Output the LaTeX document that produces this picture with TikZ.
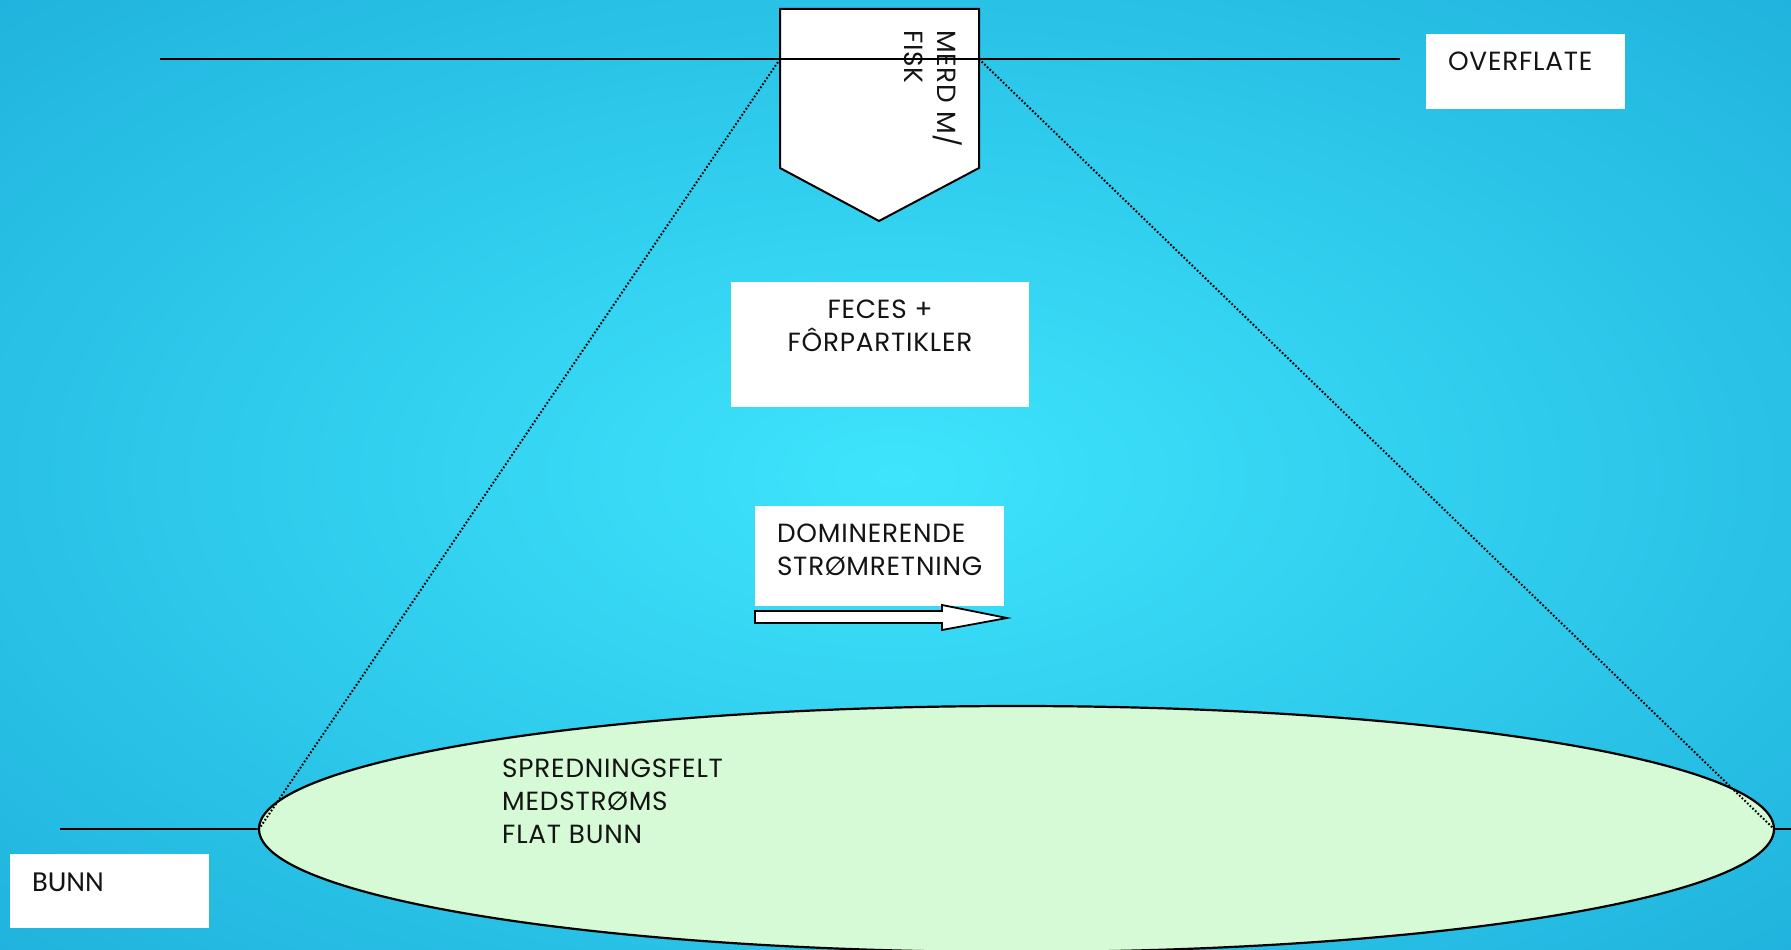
\documentclass[tikz,border=0pt]{standalone}
\usepackage{fontspec}
\newfontfamily\popf[LetterSpace=3]{Poppins}
\newfontfamily\carf{Carlito}
\usetikzlibrary{shapes.geometric}
\definecolor{bgin}{RGB}{62,228,252}
\definecolor{bgout}{RGB}{16,152,204}
\definecolor{fieldgreen}{RGB}{213,250,213}
\definecolor{ink}{RGB}{20,20,20}
\pgfdeclareradialshading{bgshade}{\pgfpoint{0bp}{0bp}}{color(0bp)=(bgin); color(55bp)=(bgout); color(80bp)=(bgout)}
\newcommand\txtfont{\popf\fontsize{26.3pt}{33pt}\selectfont}
\newcommand\bunnfont{\carf\fontsize{29pt}{35pt}\selectfont}
\begin{document}
\begin{tikzpicture}[x=1pt,y=-1pt,
  rule/.style={line width=2.2pt, draw=black},
  outline/.style={line width=2pt, draw=black},
  dots/.style={line width=2pt, draw=black, dash pattern=on 1.7pt off 2pt},
  txt/.style={font=\txtfont, text=ink},
  wbox/.style={fill=white, inner xsep=22pt, inner ysep=18pt, outer sep=0pt, anchor=north west, font=\txtfont, text=ink}
]
\useasboundingbox (0,0) rectangle (1791,950);
\shade[shading=bgshade] (0,0) rectangle (1791,950);

% cage (merd)
\coordinate (m1) at (780,9);
\coordinate (m2) at (979,9);
\coordinate (m3) at (979,168);
\coordinate (m4) at (879,221);
\coordinate (m5) at (780,168);
\draw[outline, fill=white] (m1) -- (m2) -- (m3) -- (m4) -- (m5) -- cycle;
\node[txt, rotate=-90, anchor=north west, inner sep=0pt, align=left] (merdtxt) at (962,30) {MERD M/\\FISK};

% surface line
\coordinate (ovL) at (160,59);
\coordinate (ovR) at (1400,59);
\coordinate (merdL) at (780,59);
\coordinate (merdR) at (979,59);
\draw[rule] (ovL) -- (ovR);

% spreading field
\node[ellipse, outline, line width=2.2pt, fill=fieldgreen, minimum width=1515pt, minimum height=246pt, inner sep=0pt, outer sep=0pt] (field) at (1016.5,829) {};
\coordinate (bL) at (60,829);
\coordinate (bR) at (1791,829);
\draw[rule] (bL) -- (field.west);
\draw[rule] (field.east) -- (bR);
\node[txt, anchor=north west, inner sep=0pt, align=left] (fieldtxt) at (502,759) {SPREDNINGSFELT\\MEDSTRØMS\\FLAT BUNN};

% dotted spread lines
\draw[dots] (merdL) -- (field.west);
\draw[dots] (merdR) -- (field.east);

% label boxes
\node[wbox] (overflate) at (1426,34) {\parbox[t][39pt][t]{155pt}{OVERFLATE}};
\node[wbox] (feces) at (731,282) {\parbox[t][89pt][t]{254pt}{\centering FECES +\\FÔRPARTIKLER}};
\node[wbox] (dom) at (755,506) {\parbox[t][64pt][t]{205pt}{DOMINERENDE\\STRØMRETNING}};
\node[wbox, font=\bunnfont, inner ysep=19pt] (bunn) at (10,854) {\parbox[t][36pt][t]{155pt}{BUNN}};

% current direction arrow
\draw[line width=1.8pt, draw=black, fill=white] (755,611) -- (942,611) -- (942,605) -- (1007,618) -- (942,630) -- (942,623) -- (755,623) -- cycle;
\end{tikzpicture}
\end{document}
